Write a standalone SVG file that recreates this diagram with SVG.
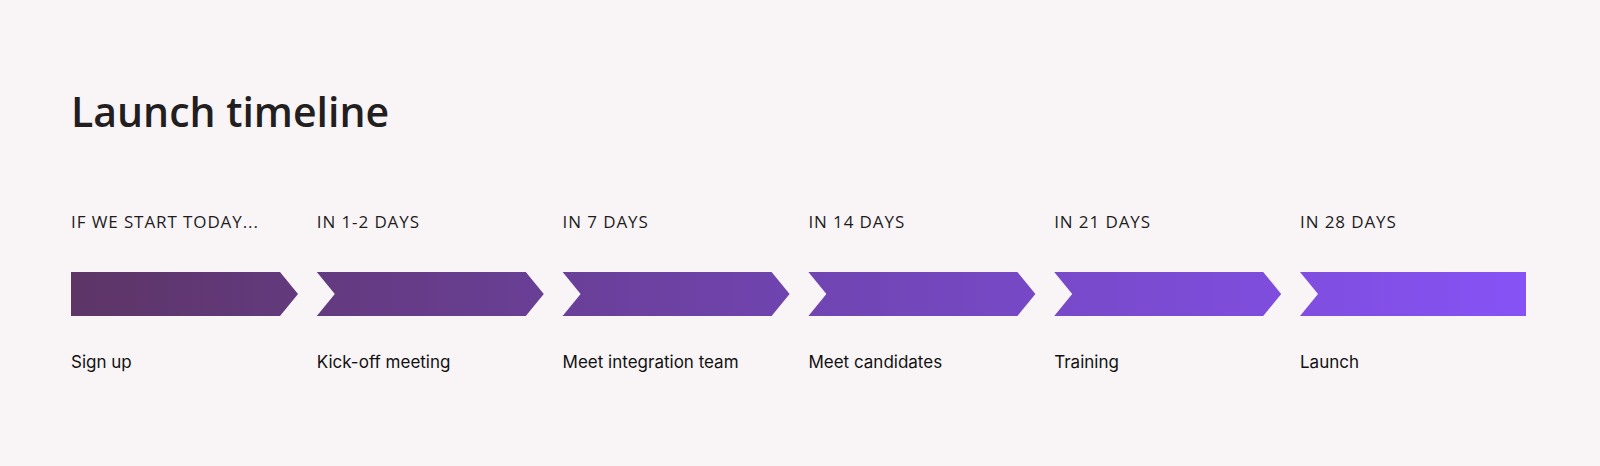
<svg xmlns="http://www.w3.org/2000/svg" width="1600" height="466" viewBox="0 0 1600 466">
  <defs>
    <linearGradient id="grad" gradientUnits="userSpaceOnUse" x1="71" y1="0" x2="1526" y2="0">
      <stop offset="0" stop-color="#5d3566"/>
      <stop offset="0.5" stop-color="#7044b0"/>
      <stop offset="1" stop-color="#8752f5"/>
    </linearGradient>
  </defs>
  <style>
    .title { font-family: "Open Sans", "Liberation Sans", sans-serif; font-weight: 600; font-size: 41px; fill: #231f20; }
    .when { font-family: "Open Sans", "Liberation Sans", sans-serif; font-weight: 500; font-size: 17px; letter-spacing: 0.9px; fill: #1e1c1d; }
    .what { font-family: Inter, "Liberation Sans", sans-serif; font-size: 17px; fill: #111111; }
    .arrow { fill: url(#grad); }
  </style>
  <rect width="1600" height="466" fill="#f9f5f7"/>
  <text class="title" x="71" y="127">Launch timeline</text>

  <g id="step1">
    <text class="when" x="71" y="228">IF WE START TODAY...</text>
    <path class="arrow" d="M71 272 H280 L298 294 L280 316 H71 Z"/>
    <text class="what" x="71" y="368">Sign up</text>
  </g>
  <g id="step2">
    <text class="when" x="316.8" y="228">IN 1-2 DAYS</text>
    <path class="arrow" d="M316.8 272 H525.8 L543.8 294 L525.8 316 H316.8 L334.8 294 Z"/>
    <text class="what" x="316.8" y="368">Kick-off meeting</text>
  </g>
  <g id="step3">
    <text class="when" x="562.6" y="228">IN 7 DAYS</text>
    <path class="arrow" d="M562.6 272 H771.6 L789.6 294 L771.6 316 H562.6 L580.6 294 Z"/>
    <text class="what" x="562.6" y="368">Meet integration team</text>
  </g>
  <g id="step4">
    <text class="when" x="808.4" y="228">IN 14 DAYS</text>
    <path class="arrow" d="M808.4 272 H1017.4 L1035.4 294 L1017.4 316 H808.4 L826.4 294 Z"/>
    <text class="what" x="808.4" y="368">Meet candidates</text>
  </g>
  <g id="step5">
    <text class="when" x="1054.2" y="228">IN 21 DAYS</text>
    <path class="arrow" d="M1054.2 272 H1263.2 L1281.2 294 L1263.2 316 H1054.2 L1072.2 294 Z"/>
    <text class="what" x="1054.2" y="368">Training</text>
  </g>
  <g id="step6">
    <text class="when" x="1300" y="228">IN 28 DAYS</text>
    <path class="arrow" d="M1300 272 H1526 V316 H1300 L1318 294 Z"/>
    <text class="what" x="1300" y="368">Launch</text>
  </g>
  <g id="connectors"/>
</svg>
